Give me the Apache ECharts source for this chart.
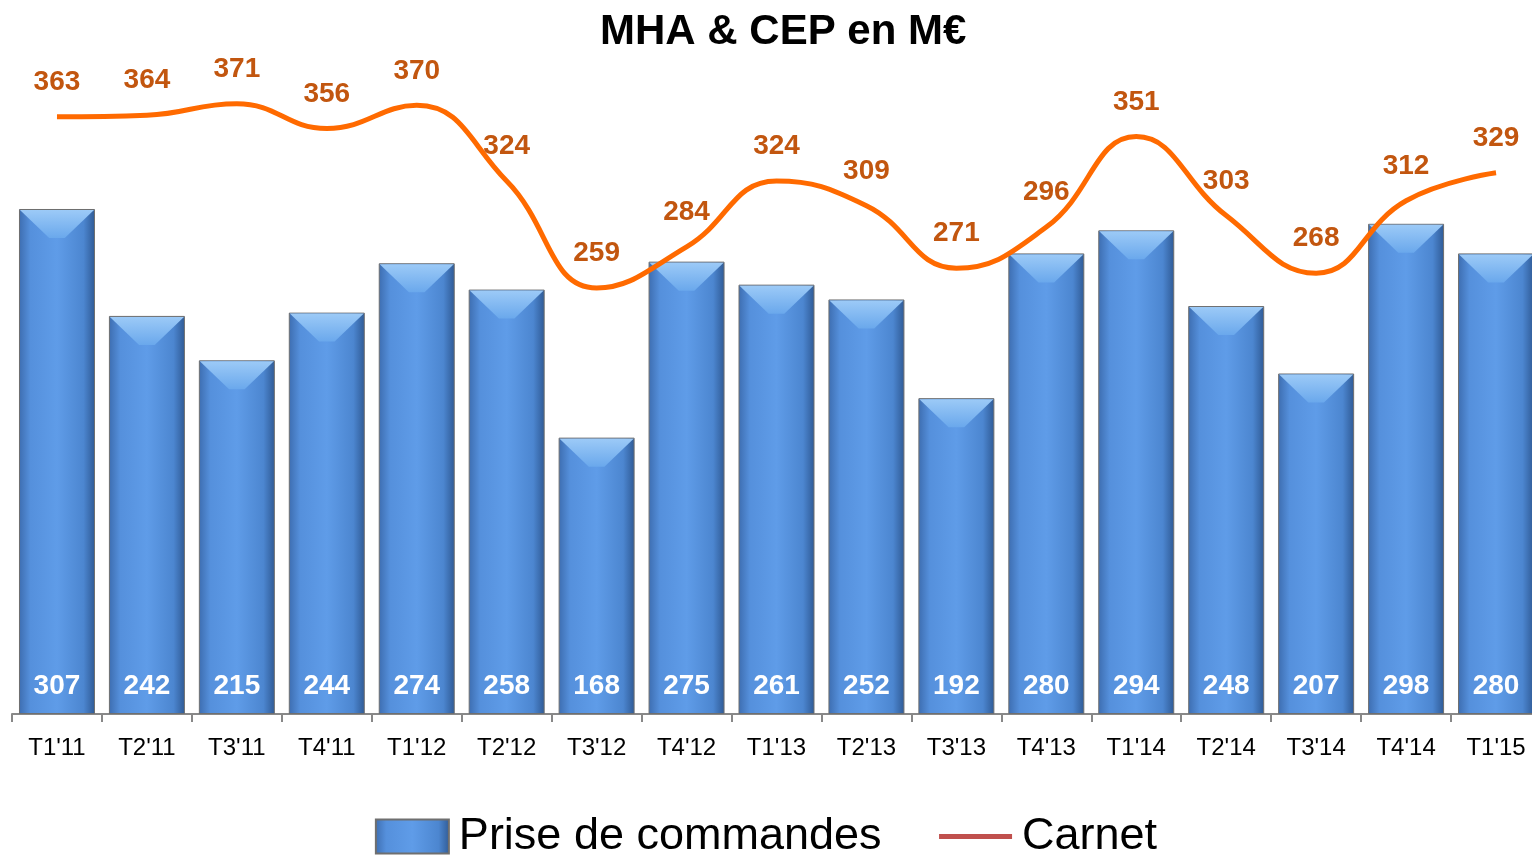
<!DOCTYPE html>
<html>
<head>
<meta charset="utf-8">
<script src="https://cdn.jsdelivr.net/npm/echarts@6/dist/echarts.min.js"></script>
<style>
    html, body { margin: 0; padding: 0; background: #fff; }
    #chart { width: 1532px; height: 864px; }
</style>
</head>
<body>
<div id="chart"></div>
<script>
var categories = ["T1'11", "T2'11", "T3'11", "T4'11", "T1'12", "T2'12", "T3'12", "T4'12", "T1'13",
    "T2'13", "T3'13", "T4'13", "T1'14", "T2'14", "T3'14", "T4'14", "T1'15"];
var priseCommandes = [307, 242, 215, 244, 274, 258, 168, 275, 261, 252, 192, 280, 294, 248, 207, 298, 280];
var carnet = [363, 364, 371, 356, 370, 324, 259, 284, 324, 309, 271, 296, 351, 303, 268, 312, 329];

var font = "'Liberation Sans', 'DejaVu Sans', sans-serif";

var barColor = new echarts.graphic.LinearGradient(0, 0, 1, 0, [
    { offset: 0, color: '#3d6db0' },
    { offset: 0.15, color: '#5590dc' },
    { offset: 0.5, color: '#5f9ce8' },
    { offset: 0.85, color: '#4c86d0' },
    { offset: 1, color: '#2f5a95' }
]);
var capColor = new echarts.graphic.LinearGradient(0, 0, 0, 1, [
    { offset: 0, color: '#9ccaf7' },
    { offset: 1, color: '#6aa8ec' }
]);

var myChart = echarts.init(document.getElementById('chart'));
var option = {
    animation: false,
    title: {
        text: 'MHA & CEP en M€',
        left: 595,
        top: 6,
        textStyle: { fontFamily: font, fontSize: 42, fontWeight: 'bold', color: '#000' }
    },
    legend: {
        bottom: 0,
        left: 'center',
        itemWidth: 73,
        itemHeight: 34,
        itemGap: 55,
        textStyle: { fontFamily: font, fontSize: 45, color: '#000', padding: [0, 0, 0, 5] },
        data: [
            { name: 'Prise de commandes', icon: 'rect' },
            {
                name: 'Carnet',
                lineStyle: { color: '#c0504d', width: 5 },
                itemStyle: { color: 'rgba(0,0,0,0)', borderWidth: 0 }
            }
        ]
    },
    grid: {
        left: 12,
        width: 1529,
        top: 56,
        bottom: 150,
        outerBoundsMode: 'none'
    },
    xAxis: {
        type: 'category',
        data: categories,
        axisLine: { lineStyle: { color: '#888', width: 2 } },
        axisTick: { show: true, length: 8, lineStyle: { color: '#888', width: 2 } },
        axisLabel: { fontFamily: font, fontSize: 24, color: '#000', margin: 22 }
    },
    yAxis: {
        type: 'value',
        min: 0,
        max: 400,
        show: false,
        splitLine: { show: false }
    },
    series: [
        {
            name: 'Prise de commandes',
            type: 'bar',
            data: priseCommandes,
            barWidth: 76,
            itemStyle: { color: barColor, borderColor: '#6f6f6f', borderWidth: 1 },
            label: {
                show: true,
                position: 'insideBottom',
                distance: 14,
                color: '#fff',
                fontFamily: font,
                fontSize: 28,
                fontWeight: 'bold'
            },
            z: 2
        },
        {
            name: 'cap',
            type: 'pictorialBar',
            data: priseCommandes,
            symbol: 'path://M0,0 L76,0 L46,28 L30,28 Z',
            symbolSize: [74, 28],
            symbolPosition: 'end',
            symbolOffset: [0, 1],
            itemStyle: { color: capColor },
            tooltip: { show: false },
            silent: true,
            z: 3
        },
        {
            name: 'Carnet',
            type: 'line',
            data: carnet,
            smooth: 0.45,
            symbol: 'circle',
            symbolSize: 1,
            showSymbol: true,
            lineStyle: { color: '#ff6a00', width: 5 },
            itemStyle: { color: 'rgba(0,0,0,0)' },
            label: {
                show: true,
                position: 'top',
                distance: 20,
                color: '#c2560f',
                fontFamily: font,
                fontSize: 28,
                fontWeight: 'bold'
            },
            z: 5
        }
    ]
};
option && myChart.setOption(option);
window.onresize = function () {
    myChart.resize();
};
</script>
</body>
</html>
